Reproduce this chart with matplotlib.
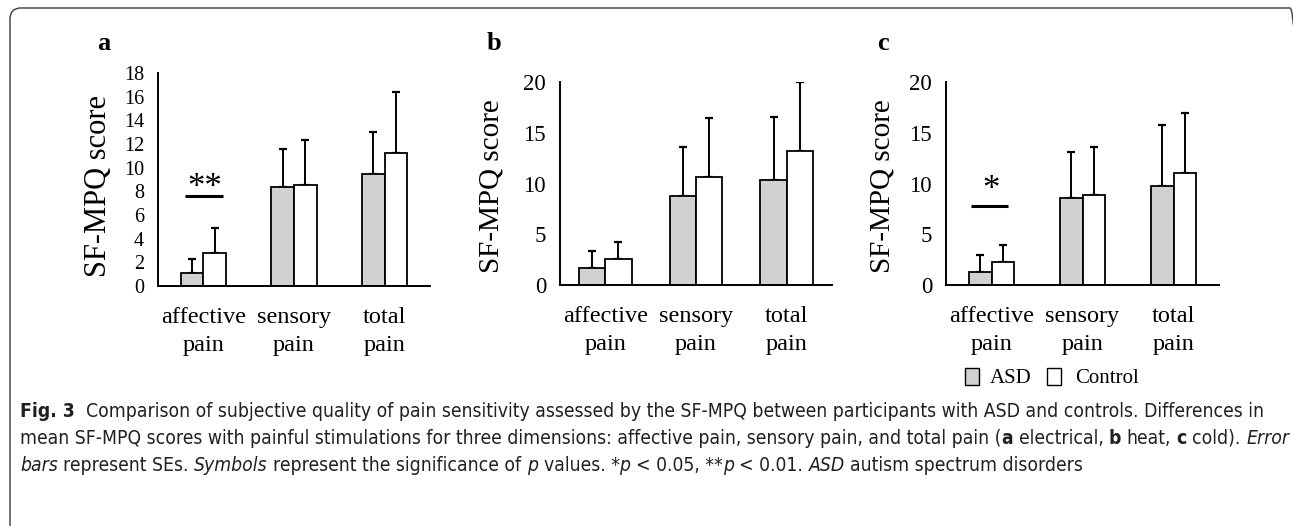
import os
import matplotlib
matplotlib.use("Agg")
import matplotlib.pyplot as plt
import numpy as np
from matplotlib.patches import FancyBboxPatch, Rectangle
from matplotlib.transforms import IdentityTransform
from matplotlib import font_manager

# ---------------- data ----------------
categories = ["affective\npain", "sensory\npain", "total\npain"]
groups = ["ASD", "Control"]

a_asd = [1.1, 8.4, 9.5]
a_asd_se = [1.2, 3.2, 3.5]
a_ctl = [2.75, 8.5, 11.2]
a_ctl_se = [2.15, 3.8, 5.2]

b_asd = [1.65, 8.8, 10.4]
b_asd_se = [1.75, 4.8, 6.15]
b_ctl = [2.55, 10.7, 13.2]
b_ctl_se = [1.65, 5.8, 6.8]

c_asd = [1.25, 8.6, 9.8]
c_asd_se = [1.7, 4.5, 6.0]
c_ctl = [2.3, 8.9, 11.1]
c_ctl_se = [1.65, 4.7, 5.9]

a_yticks = [0, 2, 4, 6, 8, 10, 12, 14, 16, 18]
bc_yticks = [0, 5, 10, 15, 20]

sig_a = "**"
sig_c = "*"

# ---------------- style ----------------
W, H = 1293, 526
DPI = 100
SERIF = "Liberation Serif"
GRAY = "#d0d1d0"
CAPCOL = "#231f20"

# pick a condensed sans for the caption if one is installed
CAP_FAMILY, CAP_STRETCH = "Liberation Sans", "normal"
pref = ["Open Sans", "Noto Sans", "Roboto", "Liberation Sans Narrow", "DejaVu Sans", "Lato", "Inter"]
found = {}
for f in font_manager.fontManager.ttflist:
    base = os.path.basename(f.fname)
    if ("Condensed" in base or "Narrow" in base) and f.style == "normal" and f.weight == 400 \
            and "Semi" not in base and "Extra" not in base and "Ultra" not in base:
        found.setdefault(f.name, f.stretch)
for p in pref:
    if p in found:
        CAP_FAMILY, CAP_STRETCH = p, found[p]
        break

fig = plt.figure(figsize=(W / DPI, H / DPI), dpi=DPI)


def px_rect(x0, x1, ytop, ybot):
    return [x0 / W, 1 - ybot / H, (x1 - x0) / W, (ybot - ytop) / H]


def panel(rect, asd, asd_se, ctl, ctl_se, ymax, yticks, width, tick_fs, label_xy, label_fs,
          letter, letter_xy):
    ax = fig.add_axes(rect)
    x = np.arange(len(categories))
    ax.bar(x - width / 2, asd, width, color=GRAY, edgecolor="black", linewidth=1.3, zorder=2)
    ax.bar(x + width / 2, ctl, width, color="white", edgecolor="black", linewidth=1.3, zorder=2)
    ax.errorbar(x - width / 2, asd, yerr=[np.zeros(3), asd_se], fmt="none",
                ecolor="black", elinewidth=1.4, capsize=3, capthick=1.6, zorder=1)
    ax.errorbar(x + width / 2, ctl, yerr=[np.zeros(3), ctl_se], fmt="none",
                ecolor="black", elinewidth=1.4, capsize=3, capthick=1.6, zorder=1)
    ax.set_xlim(-0.5, len(categories) - 0.5)
    ax.set_ylim(0, ymax)
    ax.set_yticks(yticks)
    ax.set_xticks(x)
    ax.set_xticklabels(categories, fontfamily=SERIF, fontsize=17.5, linespacing=1.42)
    for lab in ax.get_yticklabels():
        lab.set_fontfamily(SERIF)
        lab.set_fontsize(tick_fs)
    ax.tick_params(axis="y", length=0, pad=10)
    ax.tick_params(axis="x", length=0, pad=15)
    for s in ["top", "right"]:
        ax.spines[s].set_visible(False)
    for s in ["left", "bottom"]:
        ax.spines[s].set_linewidth(1.4)
    ax.set_ylabel("SF-MPQ score", fontfamily=SERIF, fontsize=label_fs)
    ax.yaxis.set_label_coords(*label_xy)
    fig.text(letter_xy[0] / W, 1 - letter_xy[1] / H, letter, fontfamily=SERIF,
             fontweight="bold", fontsize=19, ha="left", va="baseline")
    ax.set_facecolor("none")
    return ax


ax_a = panel(px_rect(158, 430, 73, 286), a_asd, a_asd_se, a_ctl, a_ctl_se, 18, a_yticks,
             0.25, 14.5, (-0.165, 0.47), 22, "a", (97, 50))
ax_b = panel(px_rect(560, 832, 82.3, 285), b_asd, b_asd_se, b_ctl, b_ctl_se, 20, bc_yticks,
             0.29, 16.5, (-0.205, 0.49), 21, "b", (487, 50))
ax_c = panel(px_rect(946, 1219, 82.3, 285), c_asd, c_asd_se, c_ctl, c_ctl_se, 20, bc_yticks,
             0.25, 16.5, (-0.185, 0.49), 21, "c", (877, 50))

# significance markers
ax_a.plot([-0.20, 0.215], [7.6, 7.6], color="black", lw=2.2, solid_capstyle="butt")
ax_a.text(0.02, 7.55, sig_a, fontfamily=SERIF, fontsize=25, ha="center", va="baseline")
ax_c.plot([-0.225, 0.18], [7.8, 7.8], color="black", lw=2.2, solid_capstyle="butt")
ax_c.text(-0.01, 8.45, sig_c, fontfamily=SERIF, fontsize=25, ha="center", va="baseline")

# legend (manual)
T = IdentityTransform()
fig.add_artist(Rectangle((965, H - 385), 13.5, 17, transform=T, facecolor=GRAY,
                         edgecolor="black", lw=1.0))
fig.add_artist(Rectangle((1047, H - 385), 13.5, 17, transform=T, facecolor="white",
                         edgecolor="black", lw=1.0))
fig.text(990 / W, 1 - 383 / H, groups[0], fontfamily=SERIF, fontsize=15, va="baseline")
fig.text(1075 / W, 1 - 383 / H, groups[1], fontfamily=SERIF, fontsize=15, va="baseline")

# border (rounded frame, right and bottom sides run off the canvas)
fig.add_artist(FancyBboxPatch((10, -40), 1291, H - 8 + 40,
                              boxstyle="round,pad=0,rounding_size=11",
                              transform=T, fill=False, edgecolor="#3a3a3a", lw=1.0))

# caption
line1 = [("Fig. 3", "b"), ("  Comparison of subjective quality of pain sensitivity assessed by the SF-MPQ between participants with ASD and controls. Differences in", "n")]
line2 = [("mean SF-MPQ scores with painful stimulations for three dimensions: affective pain, sensory pain, and total pain (", "n"),
         ("a", "b"), (" electrical, ", "n"), ("b", "b"), (" heat, ", "n"), ("c", "b"), (" cold). ", "n"), ("Error", "i")]
line3 = [("bars", "i"), (" represent SEs. ", "n"), ("Symbols", "i"), (" represent the significance of ", "n"),
         ("p", "i"), (" values. *", "n"), ("p", "i"), (" < 0.05, **", "n"), ("p", "i"), (" < 0.01. ", "n"),
         ("ASD", "i"), (" autism spectrum disorders", "n")]

renderer = fig.canvas.get_renderer()


def seg_kw(style):
    return dict(fontfamily=CAP_FAMILY, fontstretch=CAP_STRETCH,
                fontweight="bold" if style == "b" else "normal",
                fontstyle="italic" if style == "i" else "normal")


def text_w(s, size, style):
    t = fig.text(0, 0, s, fontsize=size, **seg_kw(style))
    w = t.get_window_extent(renderer).width
    t.remove()
    return w


def space_w(size):
    return text_w("x x", size, "n") - text_w("xx", size, "n")


def draw_line(segs, x0, ybase, size, draw=True):
    sw = space_w(size)
    x = x0
    for s, st in segs:
        lead = len(s) - len(s.lstrip(" "))
        trail = len(s) - len(s.rstrip(" "))
        core = s.strip(" ")
        x += lead * sw
        if core:
            if draw:
                t = fig.text(x / W, 1 - ybase / H, core, fontsize=size, color=CAPCOL,
                             ha="left", va="baseline", **seg_kw(st))
                x += t.get_window_extent(renderer).width
            else:
                x += text_w(core, size, st)
        x += trail * sw
    return x - x0


base = 12.0
w1 = draw_line(line1, 20, 0, base, draw=False)
w2 = draw_line(line2, 20, 0, base, draw=False)
cap_fs = base * min(1265 / w1, 1265 / w2)
draw_line(line1, 20, 417, cap_fs)
draw_line(line2, 20, 444, cap_fs)
draw_line(line3, 20, 471, cap_fs)

fig.savefig("out.png", dpi=DPI)
